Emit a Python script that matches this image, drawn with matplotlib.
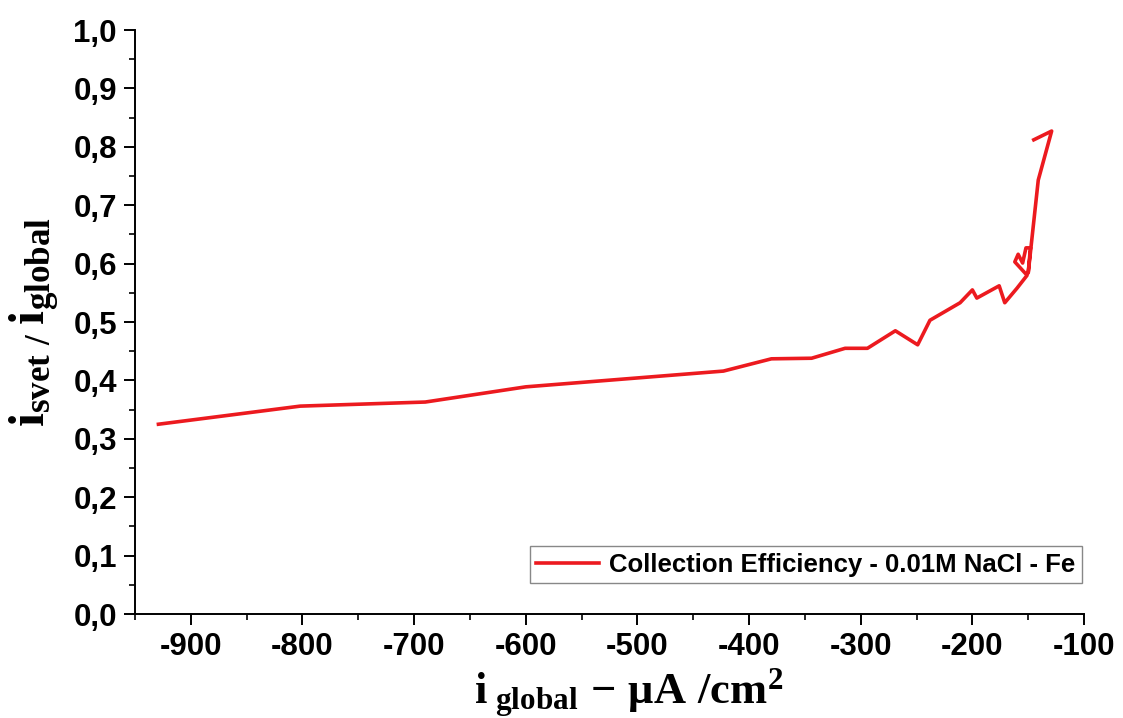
import matplotlib
matplotlib.use('Agg')
import matplotlib.pyplot as plt
from matplotlib.ticker import MultipleLocator, FuncFormatter

# collection efficiency vs global current density (Fe, 0.01M NaCl)
i_global = [-929, -802, -690, -600, -423, -380, -344, -314, -294, -269, -249, -238,
            -211, -200, -196, -176, -171, -160, -151, -162, -159, -155, -152, -148,
            -150, -141, -129, -145]
efficiency = [0.325, 0.356, 0.363, 0.389, 0.416, 0.437, 0.438, 0.455, 0.455, 0.485,
              0.461, 0.503, 0.533, 0.555, 0.541, 0.562, 0.533, 0.558, 0.580, 0.603,
              0.616, 0.601, 0.627, 0.627, 0.584, 0.743, 0.827, 0.812]
series_label = 'Collection Efficiency - 0.01M NaCl - Fe'

plt.rcParams['mathtext.fontset'] = 'custom'
plt.rcParams['mathtext.rm'] = 'Liberation Serif:bold'
plt.rcParams['mathtext.bf'] = 'Liberation Serif:bold'
plt.rcParams['mathtext.it'] = 'Liberation Serif:bold'
plt.rcParams['font.family'] = 'Liberation Sans'

fig = plt.figure(figsize=(11.23, 7.18), dpi=100)
ax = fig.add_axes([0.1202, 0.1448, 0.9653 - 0.1202, 0.9582 - 0.1448])

ax.plot(i_global, efficiency, color='#ec1a1f', lw=2.6, label=series_label)

ax.set_xlim(-950, -100)
ax.set_ylim(0, 1.0)
ax.xaxis.set_major_locator(MultipleLocator(100))
ax.xaxis.set_minor_locator(MultipleLocator(50))
ax.yaxis.set_major_locator(MultipleLocator(0.1))
ax.yaxis.set_minor_locator(MultipleLocator(0.05))
ax.yaxis.set_major_formatter(FuncFormatter(lambda v, p: f'{v:.1f}'.replace('.', ',')))
ax.xaxis.set_major_formatter(FuncFormatter(lambda v, p: f'{v:.0f}'))

for s in ['top', 'right']:
    ax.spines[s].set_visible(False)
for s in ['left', 'bottom']:
    ax.spines[s].set_linewidth(1.4)

ax.tick_params(which='major', direction='out', length=8, width=1.4, labelsize=22.5, pad=5)
ax.tick_params(which='minor', direction='out', length=4.5, width=1.2)
for t in ax.get_xticklabels() + ax.get_yticklabels():
    t.set_fontweight('bold')

ax.set_xlabel(r'$\mathbf{i}_{\ \mathbf{global}}\ \mathbf{-\ \mu A\ /cm^2}$', fontsize=32,
              labelpad=3, x=0.52)
ax.set_ylabel(r'$\mathbf{i}_{\mathbf{svet\ /\ }}\mathbf{i}_{\mathbf{global}}$', fontsize=36,
              labelpad=8)

leg = ax.legend(loc='lower right', bbox_to_anchor=(0.998, 0.053), borderaxespad=0,
                fancybox=False, framealpha=1, edgecolor='#888888', handlelength=2.45,
                borderpad=0.25, handletextpad=0.4,
                prop={'family': 'Liberation Sans', 'weight': 'bold', 'size': 18.5})
leg.get_frame().set_linewidth(1.0)

fig.savefig('out.png', dpi=100)
